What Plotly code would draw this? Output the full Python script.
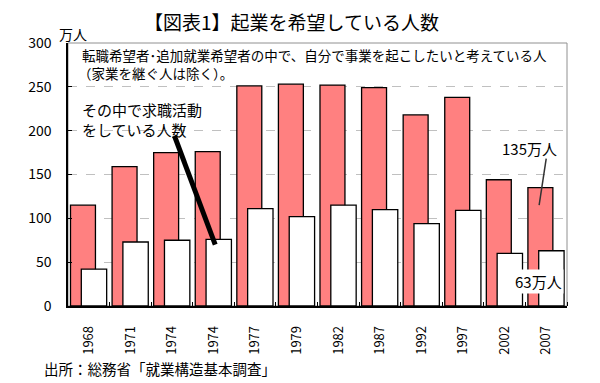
import plotly.graph_objects as go

years = ["1968", "1971", "1974", "1974", "1977", "1979", "1982", "1987", "1992", "1997", "2002", "2007"]
hope_entre = [115, 159, 175, 176, 251, 253, 252, 249, 218, 238, 144, 135]
job_seeking = [42, 73, 75, 76, 111, 102, 115, 110, 94, 109, 60, 63]
y_ticks = [0, 50, 100, 150, 200, 250, 300]

x_pos = list(range(len(years)))
FONT = "Noto Sans CJK JP"

fig = go.Figure()
fig.add_trace(go.Bar(
    x=x_pos, y=hope_entre, width=0.6, offset=-0.44,
    marker=dict(color="#FF8080", line=dict(color="black", width=1.3)),
    showlegend=False,
))
fig.add_trace(go.Bar(
    x=x_pos, y=job_seeking, width=0.61, offset=-0.18,
    marker=dict(color="white", line=dict(color="black", width=1.3)),
    showlegend=False,
))

# page body has an 8px default margin, so the figure is shrunk by 8px
fig.update_layout(
    width=592, height=375,
    margin=dict(l=60, r=33, t=35, b=77),
    paper_bgcolor="white", plot_bgcolor="white",
    barmode="overlay",
    font=dict(family=FONT, color="black", size=14),
    xaxis=dict(
        range=[-0.5, len(years) - 0.5],
        tickvals=x_pos, ticktext=years, tickangle=-90,
        ticks="", showgrid=False, zeroline=False,
        showline=True, linecolor="black", linewidth=1.5,
        tickfont=dict(size=13, family=FONT),
        ticklabelstandoff=13,
        minor=dict(tickvals=[i + 0.5 for i in x_pos], ticks="inside", ticklen=4,
                   tickcolor="black", showgrid=False),
    ),
    yaxis=dict(
        range=[0, 300], tickvals=y_ticks,
        ticks="inside", ticklen=4, tickcolor="black",
        showline=True, linecolor="black", linewidth=1.5,
        showgrid=True, gridcolor="#C0C0C0", griddash="dash", gridwidth=1,
        zeroline=False,
        tickfont=dict(size=14, family=FONT),
        ticklabelstandoff=12,
    ),
    shapes=[
        dict(type="rect", xref="paper", yref="paper", x0=0, y0=0, x1=1, y1=1,
             line=dict(color="#909090", width=1), layer="below"),
        dict(type="line", xref="x", yref="y", x0=2.06, y0=194, x1=3.04, y1=70,
             line=dict(color="black", width=5)),
        dict(type="line", xref="x", yref="y", x0=11.0, y0=168, x1=10.83, y1=115,
             line=dict(color="#333333", width=1.5)),
    ],
    annotations=[
        dict(text="【図表1】起業を希望している人数", xref="paper", yref="paper",
             x=0.448, y=1.08, xanchor="center", yanchor="middle", showarrow=False,
             font=dict(size=19, family=FONT)),
        dict(text="万人", xref="paper", yref="paper", x=-0.022, y=1.034,
             xanchor="left", yanchor="middle", showarrow=False, font=dict(size=14)),
        dict(text="転職希望者･追加就業希望者の中で、自分で事業を起こしたいと考えている人",
             xref="paper", yref="paper", x=0.024, y=0.954, xanchor="left", yanchor="middle",
             align="left", showarrow=False, font=dict(size=13.5)),
        dict(text="（家業を継ぐ人は除く）。",
             xref="paper", yref="paper", x=0.016, y=0.886, xanchor="left", yanchor="middle",
             align="left", showarrow=False, font=dict(size=13.5)),
        dict(text="その中で求職活動<br>をしている人数", xref="paper", yref="paper",
             x=0.024, y=0.795, xanchor="left", yanchor="top", align="left",
             showarrow=False, font=dict(size=15)),
        dict(text="135万人", xref="x", yref="y", x=10.59, y=180, xanchor="center",
             yanchor="middle", showarrow=False, font=dict(size=15)),
        dict(text="63万人", xref="x", yref="y", x=10.82, y=27.5, xanchor="center",
             yanchor="middle", showarrow=False, font=dict(size=15), bgcolor="white"),
        dict(text="出所：総務省「就業構造基本調査」", xref="paper", yref="paper",
             x=-0.052, y=-0.236, xanchor="left", yanchor="middle", showarrow=False,
             font=dict(size=14.5)),
    ],
)

fig.write_html("out.html")
